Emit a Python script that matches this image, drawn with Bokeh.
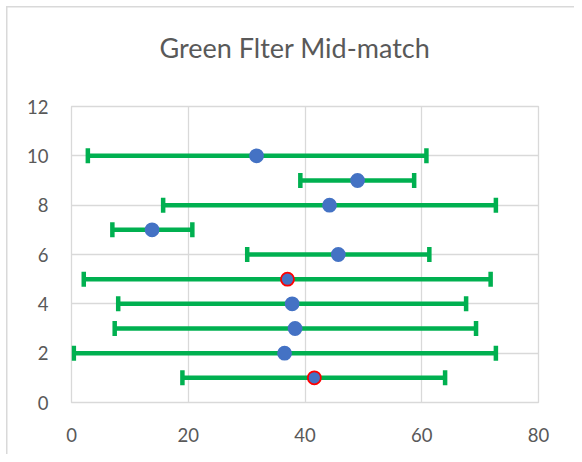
from bokeh.plotting import figure
from bokeh.models import ColumnDataSource, Whisker, TeeHead, FixedTicker, Range1d, Title
from bokeh.embed import file_html
from bokeh.resources import INLINE

# data
rows = [1, 2, 3, 4, 5, 6, 7, 8, 9, 10]
mid = [41.6, 36.5, 38.3, 37.8, 37.0, 45.7, 13.8, 44.2, 49.0, 31.7]
low = [19.0, 0.4, 7.4, 8.0, 2.1, 30.1, 7.0, 15.7, 39.2, 2.8]
high = [64.0, 72.7, 69.3, 67.6, 71.8, 61.3, 20.7, 72.7, 58.7, 60.8]
flagged = [True, False, False, False, True, False, False, False, False, False]
x_ticks = [0, 20, 40, 60, 80]
y_ticks = [0, 2, 4, 6, 8, 10, 12]
title_text = "Green Flter Mid-match"

FONT = "Lato"
GREY = "#595959"
GRID = "#d9d9d9"

src = ColumnDataSource(dict(
    y=rows, x=mid, lower=low, upper=high,
    line=["#ff0000" if f else "#4472c4" for f in flagged],
))

p = figure(width=574, height=454, output_backend="svg", toolbar_location=None,
           x_range=Range1d(0, 80), y_range=Range1d(0, 12),
           min_border_left=71, min_border_right=36, min_border_top=106, min_border_bottom=52)

p.title.text = title_text
p.title.align = "left"
p.title.offset = 88
p.title.text_font = FONT
p.title.text_font_size = "27px"
p.title.text_font_style = "normal"
p.title.text_color = GREY
p.title.standoff = 0

# empty spacer between the title and the plot area
p.add_layout(Title(text=" ", text_font_size="1px", standoff=40), "above")

for ax in (p.xaxis[0], p.yaxis[0]):
    ax.axis_line_color = None
    ax.major_tick_line_color = None
    ax.minor_tick_line_color = None
    ax.major_label_text_font = FONT
    ax.major_label_text_font_size = "18.5px"
    ax.major_label_text_color = GREY
    ax.major_tick_out = 0
    ax.major_tick_in = 0
p.xaxis.ticker = FixedTicker(ticks=x_ticks)
p.yaxis.ticker = FixedTicker(ticks=y_ticks)
p.xaxis.major_label_standoff = 25
p.yaxis.major_label_standoff = 23

p.xgrid.ticker = FixedTicker(ticks=x_ticks)
p.ygrid.ticker = FixedTicker(ticks=y_ticks)
p.grid.grid_line_color = GRID
p.grid.grid_line_width = 1.3
p.outline_line_color = GRID
p.outline_line_width = 1.3

whisk = Whisker(source=src, base="y", lower="lower", upper="upper", dimension="width",
                line_color="#00b050", line_width=4.5,
                lower_head=TeeHead(size=15, line_color="#00b050", line_width=4.5),
                upper_head=TeeHead(size=15, line_color="#00b050", line_width=4.5))
p.add_layout(whisk)

p.scatter("x", "y", source=src, size=13, fill_color="#4472c4", line_color="line", line_width=1.8)

# outer chart-area border (left and top edges visible), drawn behind a transparent canvas border
p.border_fill_color = None
p.background_fill_color = "white"
p.styles = {
    "background": ("linear-gradient(#d9d9d9, #d9d9d9) 6px 6px / 1.5px 100% no-repeat, "
                   "linear-gradient(#d9d9d9, #d9d9d9) 6px 6px / 100% 1.5px no-repeat, white"),
}

open("out.html", "w").write(file_html(p, INLINE))
